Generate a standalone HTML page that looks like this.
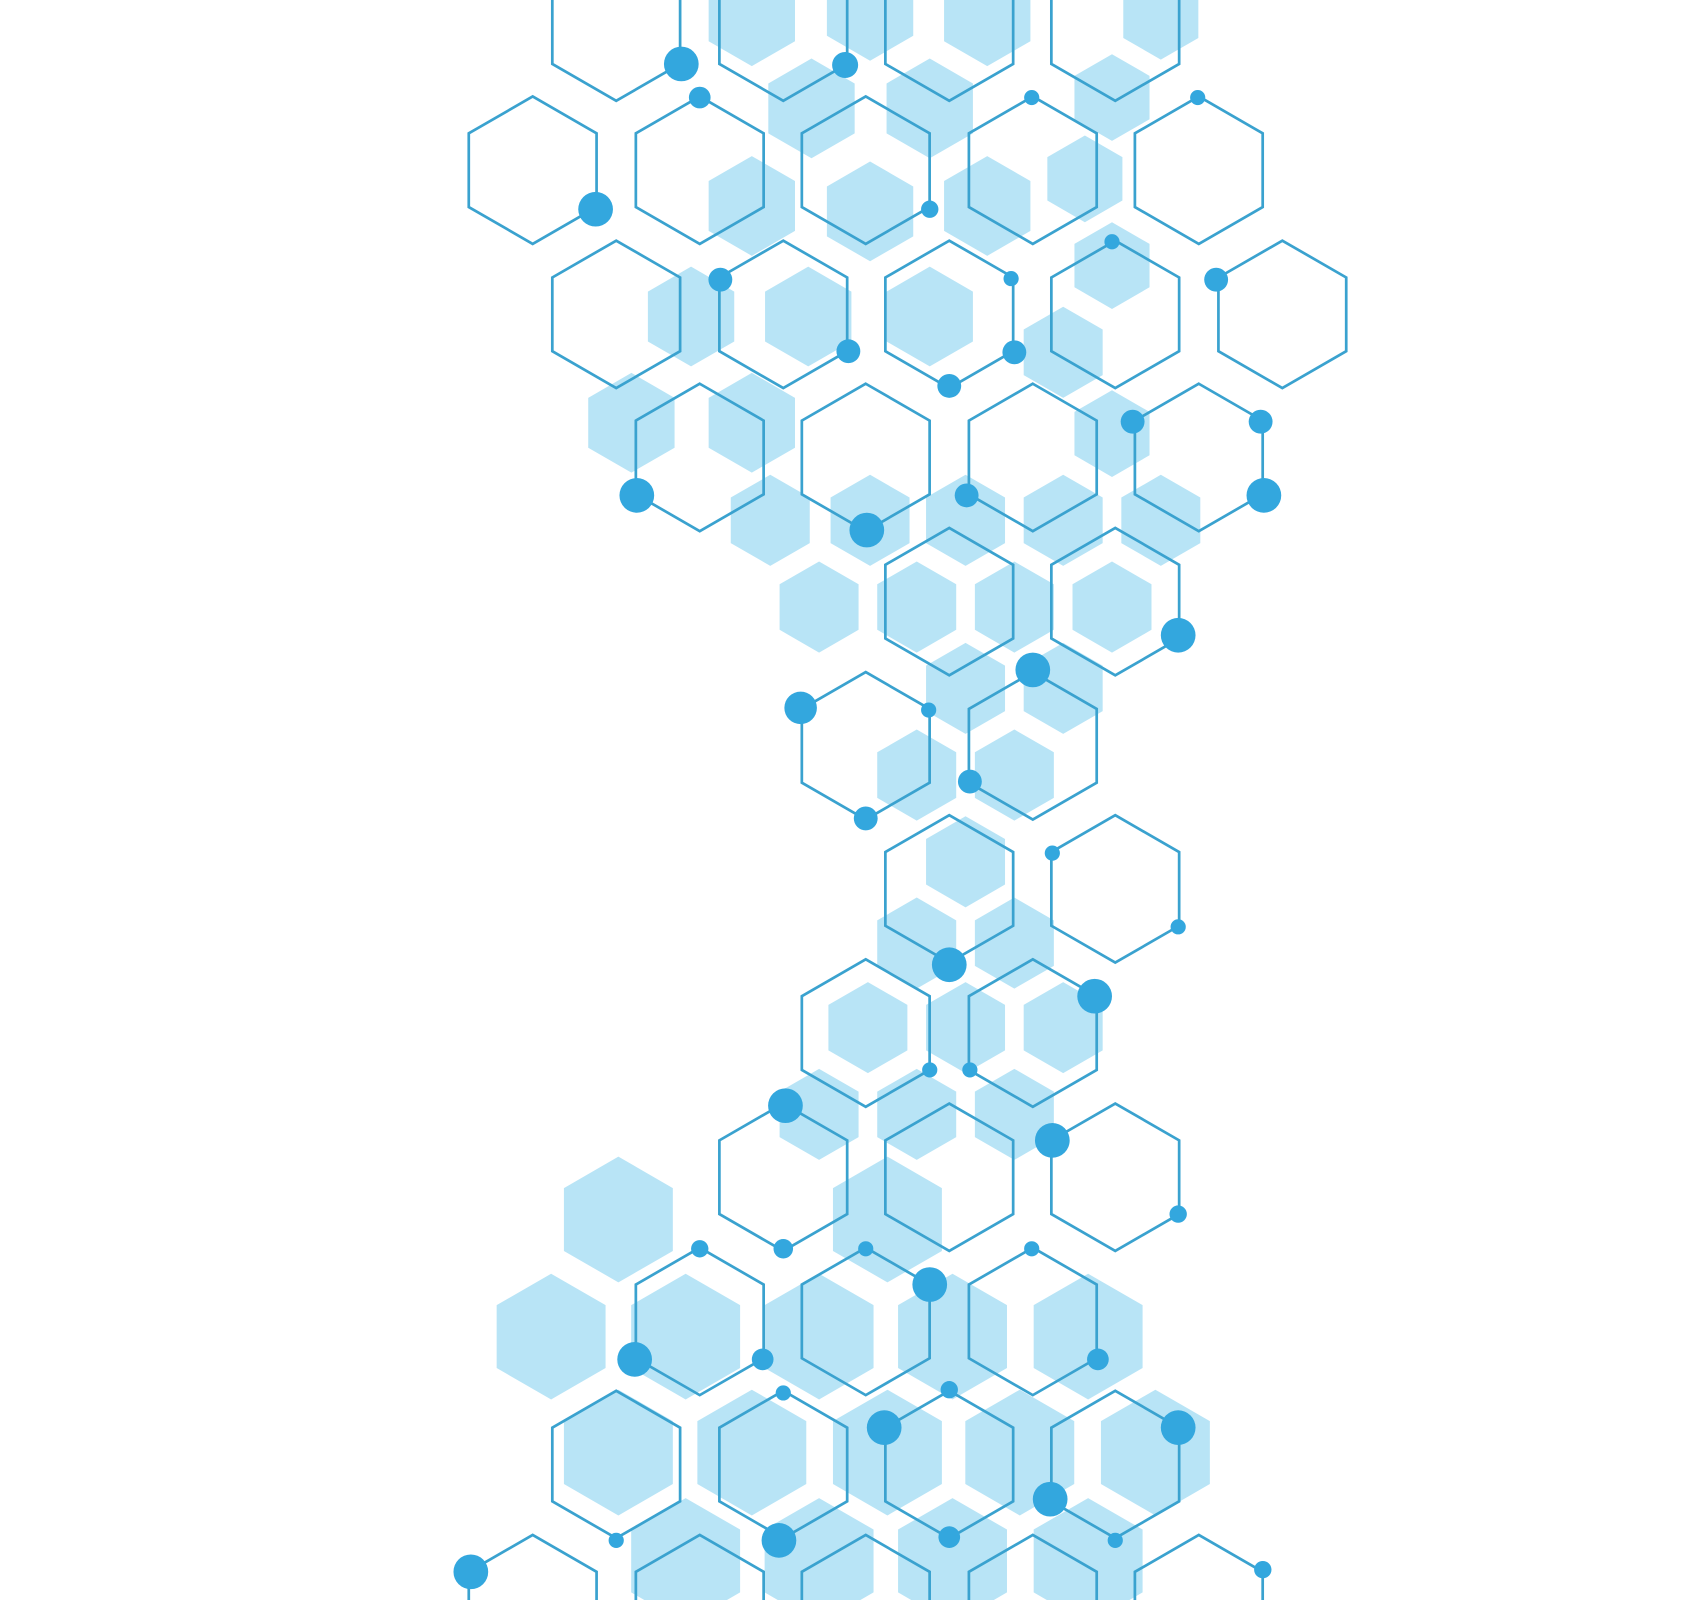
<!DOCTYPE html>
<html><head><meta charset="utf-8">
<style>
html,body{margin:0;padding:0;background:#fff;width:1700px;height:1600px;overflow:hidden}
svg{display:block;overflow:hidden}
</style></head>
<body>
<svg id="art" width="1700" height="1600" viewBox="0 0 1567 1476" preserveAspectRatio="none" xmlns="http://www.w3.org/2000/svg">
<g id="fills"></g>
<g id="outlines"></g>
<g id="dots"></g>
</svg>
<script>
const rowYs=[25,157,290,422,555,688,820,953,1086,1219,1351,1484];
const rowCols=[[568,722,875,1028],[491,645,798,952,1105],[568,722,875,1028,1182],[645,798,952,1105],[875,1028],[798,952],[875,1028],[798,952],[722,875,1028],[645,798,952],[568,722,875,1028],[491,645,798,952,1105]];
const fillCenters=[[693,15,46],[802,10,46],[910,15,46],[1070,15,40],[748,100,46],[857,100,46],[1025,90,40],[693,190,46],[802,195,46],[910,190,46],[1000,165,40],[637,292,46],[745,292,46],[857,292,46],[1025,245,40],[980,325,42],[582,390,46],[693,390,46],[1025,400,40],[710,480,42],[802,480,42],[890,480,42],[980,480,42],[1070,480,42],[755,560,42],[845,560,42],[935,560,42],[1025,560,42],[890,635,42],[980,635,42],[845,715,42],[935,715,42],[890,795,42],[845,870,42],[935,870,42],[800,948,42],[890,948,42],[980,948,42],[755,1028,42],[845,1028,42],[935,1028,42],[818,1125,58],[570,1125,58],[508,1233,58],[632,1233,58],[755,1233,58],[878,1233,58],[1003,1233,58],[570,1340,58],[693,1340,58],[818,1340,58],[940,1340,58],[1065,1340,58],[632,1440,58],[755,1440,58],[878,1440,58],[1003,1440,58]];
const dotList=[[628,59,16],[779,60,12],[645,90,10],[951,90,7],[1104,90,7],[549,193,16],[857,193,8],[664,258,11],[932,257,7],[1025,223,7],[1121,258,11],[782,324,11],[935,325,11],[875,356,11],[1044,389,11],[1162,389,11],[587,457,16],[799,489,16],[891,457,11],[1165,457,16],[1086,586,16],[952,618,16],[738,653,15],[856,655,7],[894,721,11],[798,755,11],[970,787,7],[1086,855,7],[875,890,16],[1009,919,16],[857,987,7],[894,987,7],[724,1020,16],[970,1052,16],[1086,1120,8],[722,1152,9],[645,1152,8],[798,1152,7],[857,1185,16],[951,1152,7],[585,1254,16],[703,1254,10],[1012,1254,10],[722,1285,7],[875,1282,8],[815,1317,16],[1086,1317,16],[968,1383,16],[568,1421,7],[718,1421,16],[875,1418,10],[1028,1421,7],[434,1450,16],[1164,1448,8]];
const NS="http://www.w3.org/2000/svg";
function hexPts(cx,cy,r){let p=[];for(let i=0;i<6;i++){const a=Math.PI/180*(60*i-90);p.push((cx+r*Math.cos(a)).toFixed(1)+","+(cy+r*Math.sin(a)).toFixed(1));}return p.join(" ");}
const fg=document.getElementById('fills');
fillCenters.forEach(f=>{const el=document.createElementNS(NS,'polygon');el.setAttribute('points',hexPts(f[0],f[1],f[2]));el.setAttribute('fill','#b8e4f6');


fg.appendChild(el);});
const og=document.getElementById('outlines');
rowYs.forEach((y,i)=>{rowCols[i].forEach(x=>{const el=document.createElementNS(NS,'polygon');el.setAttribute('points',hexPts(x,y,68));el.setAttribute('fill','none');el.setAttribute('stroke','#3aa2cf');el.setAttribute('stroke-width','2.5');


og.appendChild(el);});});
const dg=document.getElementById('dots');
dotList.forEach(d=>{const el=document.createElementNS(NS,'circle');el.setAttribute('cx',d[0]);el.setAttribute('cy',d[1]);el.setAttribute('r',d[2]);el.setAttribute('fill','#33a7de');


dg.appendChild(el);});
</script>
</body></html>
